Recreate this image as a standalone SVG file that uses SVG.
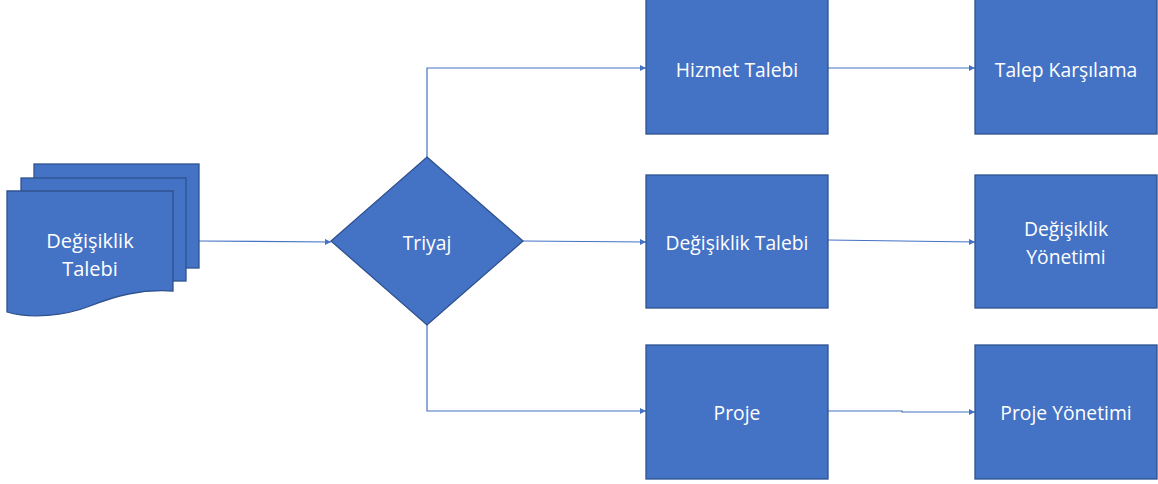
<svg xmlns="http://www.w3.org/2000/svg" width="1158" height="484" viewBox="0 0 1158 484">
<style>
.n{fill:#4472C4;stroke:#2F528F;stroke-width:1.3}
.t{fill:#FFFFFF;font-family:"Open Sans","Noto Sans","Liberation Sans",sans-serif;font-size:19.3px;text-anchor:middle;dominant-baseline:central}
.d{font-size:20px}
.c{fill:none;stroke:#4472C4;stroke-width:1.2}
</style>
<defs>
<marker id="a" viewBox="0 0 10 10" refX="10" refY="5" markerWidth="6" markerHeight="6" markerUnits="userSpaceOnUse" orient="auto">
<path d="M0,0 L10,5 L0,10 z" fill="#4472C4"/>
</marker>
</defs>
<rect width="1158" height="484" fill="#FFFFFF"/>
<g id="connectors">
<path class="c" d="M199,241 L331,242" marker-end="url(#a)"/>
<path class="c" d="M427,157 L427,68 L646,68" marker-end="url(#a)"/>
<path class="c" d="M523,241 L646,242" marker-end="url(#a)"/>
<path class="c" d="M427,325 L427,411 L646,411" marker-end="url(#a)"/>
<path class="c" d="M828,68 L975,68" marker-end="url(#a)"/>
<path class="c" d="M828,240 L975,242" marker-end="url(#a)"/>
<path class="c" d="M828,411 L902,411 L902,412 L975,412" marker-end="url(#a)"/>
</g>
<g id="degisiklik-talebi-doc">
<rect class="n" x="34" y="164" width="165" height="104"/>
<rect class="n" x="21" y="178" width="165" height="103"/>
<path class="n" d="M7,191 L173,191 L173,291 C140,289 115,296 90,306 C65,316 30,319 7,312 Z"/>
<text class="t d" x="90" y="240">Değişiklik</text>
<text class="t d" x="90" y="268">Talebi</text>
</g>
<g id="triyaj">
<path class="n" d="M427,157 L523,241 L427,325 L331,241 Z"/>
<text class="t" x="427" y="242">Triyaj</text>
</g>
<g id="hizmet-talebi">
<rect class="n" x="646" y="-1" width="182" height="135"/>
<text class="t" x="737" y="69">Hizmet Talebi</text>
</g>
<g id="degisiklik-talebi">
<rect class="n" x="646" y="175" width="182" height="133"/>
<text class="t" x="737" y="242">Değişiklik Talebi</text>
</g>
<g id="proje">
<rect class="n" x="646" y="345" width="182" height="134"/>
<text class="t" x="737" y="412">Proje</text>
</g>
<g id="talep-karsilama">
<rect class="n" x="975" y="-1" width="182" height="135"/>
<text class="t" x="1066" y="69">Talep Karşılama</text>
</g>
<g id="degisiklik-yonetimi">
<rect class="n" x="975" y="175" width="182" height="133"/>
<text class="t" x="1066" y="228">Değişiklik</text>
<text class="t" x="1066" y="256">Yönetimi</text>
</g>
<g id="proje-yonetimi">
<rect class="n" x="975" y="345" width="182" height="134"/>
<text class="t" x="1066" y="412">Proje Yönetimi</text>
</g>
</svg>
